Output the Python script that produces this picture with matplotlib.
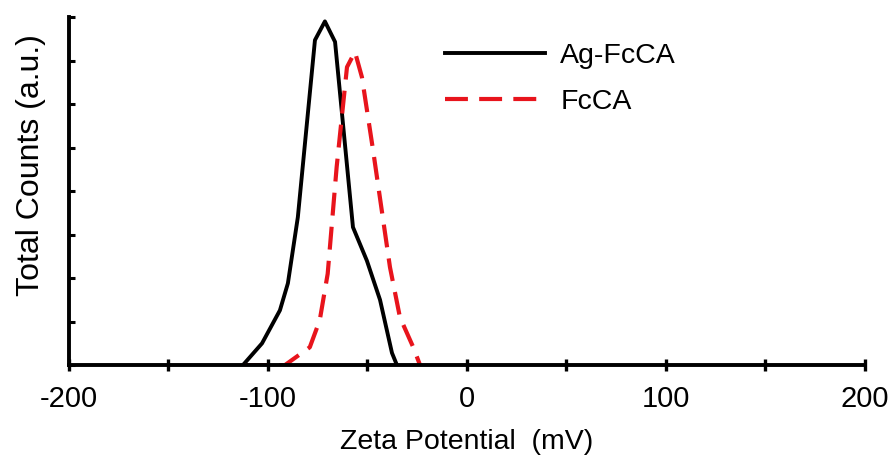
import numpy as np
from matplotlib import pyplot as plt

plt.rcParams['font.family'] = ['Liberation Sans', 'DejaVu Sans']
plt.rcParams['axes.unicode_minus'] = False

# Ag-FcCA (solid black)
agX = [-112.6, -103, -94, -90, -85, -76.4, -71.4, -66.3, -57.3, -50.3, -43.7, -37.7, -35.2]
agY = [0.0, 0.5, 1.26, 1.88, 3.4, 7.47, 7.9, 7.43, 3.17, 2.4, 1.5, 0.28, 0.0]

# FcCA (dashed red)
fcX = [-111.6, -91.5, -79, -74, -70, -65.5, -60.3, -56.3, -52.8, -47.2, -38.7, -33.7, -27, -23.6]
fcY = [0.0, 0.0, 0.41, 1.03, 2.1, 4.55, 6.85, 7.2, 6.62, 4.94, 2.25, 1.1, 0.41, 0.0]

xTicks = [-200, -100, 0, 100, 200]

fig = plt.figure(figsize=(8.89, 4.61), dpi=100)
ax = fig.add_axes([0.0776, 0.208, 0.8954, 0.755])

ax.plot(agX, agY, color='black', lw=2.8, label='Ag-FcCA')
ax.plot(fcX, fcY, color='#e8141c', lw=3.0, dashes=(5.5, 2.7), label='FcCA')

ax.set_xlim(-200, 200)
ax.set_ylim(0, 8)
ax.set_xticks(xTicks)
ax.set_xticks(np.arange(-200, 201, 50), minor=True)
ax.set_yticks(np.arange(0, 9, 1))
ax.set_yticklabels([])

for side in ['top', 'right']:
    ax.spines[side].set_visible(False)
for side in ['left', 'bottom']:
    ax.spines[side].set_linewidth(2.8)

ax.tick_params(axis='x', which='both', direction='inout', length=8, width=2.4, labelsize=21, pad=10)
ax.tick_params(axis='y', direction='in', length=4, width=2.2)

ax.set_xlabel('Zeta Potential  (mV)', fontsize=20.5, labelpad=12)
ax.set_ylabel('Total Counts (a.u.)', fontsize=23)
ax.yaxis.set_label_coords(-0.029, 0.575)

ax.legend(loc='upper left', bbox_to_anchor=(0.44, 1.0), frameon=False, fontsize=20.5,
          handlelength=3.5, handletextpad=0.55, labelspacing=0.72)

plt.savefig('out.png')
